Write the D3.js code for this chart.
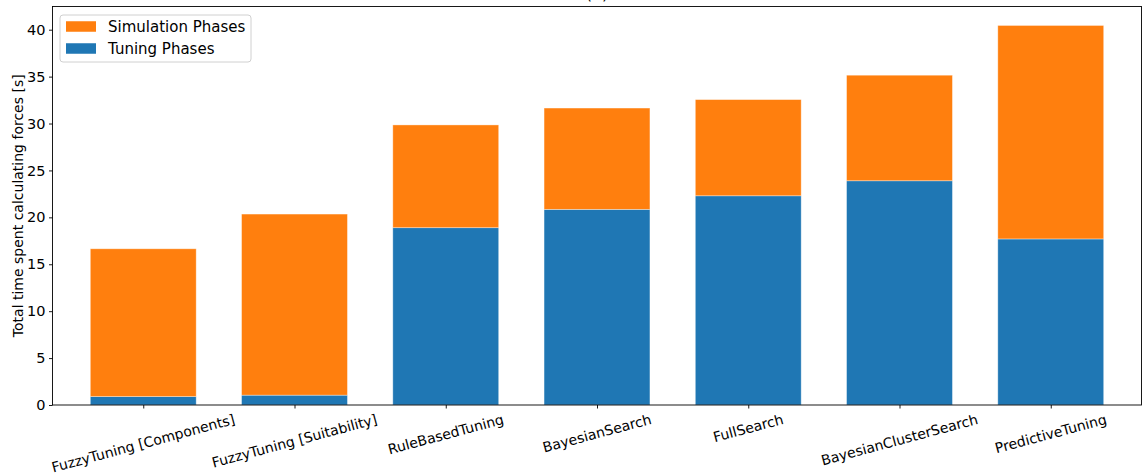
<!DOCTYPE html>
<html>
<head>
<meta charset="utf-8">
<script src="https://cdn.jsdelivr.net/npm/d3@7"></script>
<style>
  html, body { margin: 0; padding: 0; background: #fff; }
  svg { display: block; font-family: "DejaVu Sans", sans-serif; }
</style>
</head>
<body>
<svg id="chart" width="1148" height="473"></svg>
<script>
// Per-strategy time spent calculating forces, split into phases
const categories = [
  "FuzzyTuning [Components]",
  "FuzzyTuning [Suitability]",
  "RuleBasedTuning",
  "BayesianSearch",
  "FullSearch",
  "BayesianClusterSearch",
  "PredictiveTuning"
];
const tuningPhases     = [0.9, 1.05, 18.9, 20.85, 22.3, 23.9, 17.7];
const simulationPhases = [15.75, 19.3, 10.95, 10.8, 10.25, 11.25, 22.75];
const yTicks = [0, 5, 10, 15, 20, 25, 30, 35, 40];
const seriesNames = ["Simulation Phases", "Tuning Phases"];
const seriesColors = ["#ff7f0e", "#1f77b4"];

const svg = d3.select("#chart");
const margin = { left: 52.5, right: 1141.5, top: 6.5, bottom: 405 };
const barWidth = 0.7;

const x = d3.scaleLinear().domain([-0.6, categories.length - 0.4]).range([margin.left, margin.right]);
const totals = tuningPhases.map((t, i) => t + simulationPhases[i]);
const yMax = d3.max(totals) * 1.05;
const y = d3.scaleLinear().domain([0, yMax]).range([margin.bottom, margin.top]);

// title (sits above the visible area)
svg.append("text")
  .attr("x", (margin.left + margin.right) / 2)
  .attr("y", -1.5)
  .attr("text-anchor", "middle")
  .attr("font-size", 16)
  .attr("fill", "#000")
  .text("(a)");

// stacked bars: tuning at the bottom, simulation on top
const g = svg.append("g");
g.selectAll("rect.tuning")
  .data(tuningPhases)
  .join("rect")
  .attr("class", "tuning")
  .attr("x", (d, i) => x(i - barWidth / 2))
  .attr("width", (d, i) => x(i + barWidth / 2) - x(i - barWidth / 2))
  .attr("y", d => y(d))
  .attr("height", d => y(0) - y(d))
  .attr("fill", seriesColors[1])
  .attr("stroke", "rgba(255,255,255,0.45)")
  .attr("stroke-width", 0.8);

g.selectAll("rect.sim")
  .data(simulationPhases)
  .join("rect")
  .attr("class", "sim")
  .attr("x", (d, i) => x(i - barWidth / 2))
  .attr("width", (d, i) => x(i + barWidth / 2) - x(i - barWidth / 2))
  .attr("y", (d, i) => y(tuningPhases[i] + d))
  .attr("height", (d, i) => y(tuningPhases[i]) - y(tuningPhases[i] + d))
  .attr("fill", seriesColors[0])
  .attr("stroke", "rgba(255,255,255,0.45)")
  .attr("stroke-width", 0.8);

// frame
svg.append("rect")
  .attr("x", margin.left)
  .attr("y", margin.top)
  .attr("width", margin.right - margin.left)
  .attr("height", margin.bottom - margin.top)
  .attr("fill", "none")
  .attr("stroke", "#000")
  .attr("stroke-width", 0.9);

// y axis
const yAxis = svg.append("g")
  .attr("transform", `translate(${margin.left},0)`)
  .call(d3.axisLeft(y).tickValues(yTicks).tickSize(3.5).tickPadding(3.5).tickFormat(d3.format("d")));
yAxis.select(".domain").remove();
yAxis.selectAll("line").attr("stroke", "#000").attr("stroke-width", 0.9);
yAxis.selectAll("text").attr("font-size", 14.5).attr("font-family", "DejaVu Sans").attr("fill", "#000");

// x axis ticks
const xAxis = svg.append("g")
  .attr("transform", `translate(0,${margin.bottom})`)
  .call(d3.axisBottom(x).tickValues(d3.range(categories.length)).tickSize(3.5).tickFormat(""));
xAxis.select(".domain").remove();
xAxis.selectAll("line").attr("stroke", "#000").attr("stroke-width", 0.9);

// rotated category labels, centred under each tick
const angle = 15;
const rad = angle * Math.PI / 180;
categories.forEach((c, i) => {
  const t = svg.append("text")
    .attr("font-size", 14)
    .attr("fill", "#000")
    .attr("text-anchor", "middle")
    .attr("dominant-baseline", "central")
    .text(c);
  const w = t.node().getComputedTextLength();
  const h = 14 * 1.15;
  const bboxH = w * Math.sin(rad) + h * Math.cos(rad);
  const cx = x(i);
  const cy = margin.bottom + 3.5 + 2.5 + bboxH / 2;
  t.attr("transform", `translate(${cx},${cy}) rotate(${-angle})`);
});

// y axis label
svg.append("text")
  .attr("transform", `translate(18,${(margin.top + margin.bottom) / 2}) rotate(-90)`)
  .attr("text-anchor", "middle")
  .attr("dominant-baseline", "central")
  .attr("font-size", 14)
  .attr("fill", "#000")
  .text("Total time spent calculating forces [s]");

// legend
const legend = svg.append("g").attr("transform", "translate(60,15)");
legend.append("rect")
  .attr("x", 0).attr("y", 0)
  .attr("width", 191).attr("height", 47)
  .attr("rx", 3)
  .attr("fill", "rgba(255,255,255,0.8)")
  .attr("stroke", "#d0d0d0")
  .attr("stroke-width", 1);
seriesNames.forEach((name, i) => {
  const row = legend.append("g").attr("transform", `translate(0,${11.5 + i * 22})`);
  row.append("rect")
    .attr("x", 6).attr("y", -5.25)
    .attr("width", 30).attr("height", 10.5)
    .attr("fill", seriesColors[i]);
  row.append("text")
    .attr("x", 48).attr("y", 0)
    .attr("dominant-baseline", "central")
    .attr("font-size", 15)
    .attr("fill", "#000")
    .text(name);
});
</script>
</body>
</html>
